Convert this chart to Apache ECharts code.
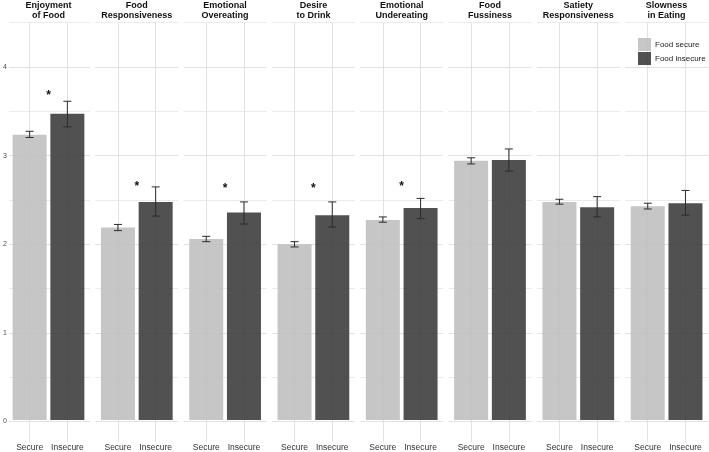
<!DOCTYPE html>
<html>
<head>
<meta charset="utf-8">
<script src="https://cdn.jsdelivr.net/npm/echarts@6/dist/echarts.min.js"></script>
<style>
  html, body { margin: 0; padding: 0; background: #fff; }
  #main { width: 709px; height: 452px; }
</style>
</head>
<body>
<div id="main"></div>
<script>
// facet names and groups
var panelNames = ['Enjoyment\nof Food', 'Food\nResponsiveness', 'Emotional\nOvereating', 'Desire\nto Drink',
                  'Emotional\nUndereating', 'Food\nFussiness', 'Satiety\nResponsiveness', 'Slowness\nin Eating'];
var groups = ['Secure', 'Insecure'];
var legendNames = ['Food secure', 'Food insecure'];

// means and error bar limits
var secureMean   = [3.23, 2.18, 2.05, 1.99, 2.265, 2.935, 2.47, 2.42];
var secureLow    = [3.20, 2.145, 2.02, 1.96, 2.24, 2.90, 2.445, 2.39];
var secureHigh   = [3.27, 2.215, 2.08, 2.02, 2.30, 2.97, 2.50, 2.455];
var insecureMean = [3.47, 2.47, 2.35, 2.32, 2.40, 2.945, 2.41, 2.455];
var insecureLow  = [3.32, 2.31, 2.22, 2.185, 2.28, 2.82, 2.30, 2.32];
var insecureHigh = [3.61, 2.64, 2.47, 2.47, 2.51, 3.07, 2.53, 2.60];
// significance stars (null = none)
var starY = [3.70, 2.67, 2.64, 2.64, 2.67, null, null, null];

// y axis
var yMin = 0, yMax = 4.5, yStep = 0.5;

var font = 'Liberation Sans, Arial, Helvetica, sans-serif';
var lightFill = 'rgba(190,190,190,0.88)';
var darkFill = 'rgba(62,62,62,0.9)';
var gridColor = '#e2e2e2';

var panelW = 83, panelStep = 88.3, panelLeft0 = 7;
var gridTop = 22.7, gridBottom = 30.6;

var grids = [], xAxes = [], yAxes = [], series = [], titles = [];

for (var i = 0; i < panelNames.length; i++) {
    var pl = panelLeft0 + i * panelStep;
    // background grid: horizontal grid lines over the full panel width
    grids.push({left: pl, width: panelW, top: gridTop, bottom: gridBottom});
    // foreground grid: bars (ggplot style 0.6 expansion on discrete axis)
    var fw = panelW / 2.2 * 2;
    grids.push({left: pl + panelW * 0.6 / 2.2 - fw / 4, width: fw, top: gridTop, bottom: gridBottom});

    var bg = i * 2, fg = i * 2 + 1;

    xAxes.push({
        gridIndex: bg, type: 'value', min: 0, max: 1, show: false
    });
    yAxes.push({
        gridIndex: bg, type: 'value', min: yMin, max: yMax, interval: yStep,
        axisLine: {show: false}, axisTick: {show: false},
        axisLabel: {
            show: i === 0, margin: 2, fontSize: 7, color: '#4d4d4d', fontFamily: font,
            formatter: function (v) { return v % 1 === 0 ? String(v) : ''; }
        },
        splitLine: {show: true, lineStyle: {color: [gridColor, '#ebebeb'], width: 1}}
    });

    xAxes.push({
        gridIndex: fg, type: 'category', data: groups, boundaryGap: true,
        axisLine: {show: false},
        axisTick: {show: true, interval: 0, alignWithLabel: true, length: 22, lineStyle: {color: gridColor}},
        axisLabel: {interval: 0, margin: 23, fontSize: 8.5, color: '#333', fontFamily: font},
        splitLine: {show: true, interval: 0, alignWithLabel: true, lineStyle: {color: gridColor}}
    });
    yAxes.push({
        gridIndex: fg, type: 'value', min: yMin, max: yMax, show: false, splitLine: {show: false}
    });

    series.push({
        name: legendNames[0], type: 'bar', xAxisIndex: fg, yAxisIndex: fg,
        barWidth: 34, barGap: '-100%',
        itemStyle: {color: lightFill},
        data: [secureMean[i], '-']
    });
    series.push({
        name: legendNames[1], type: 'bar', xAxisIndex: fg, yAxisIndex: fg,
        barWidth: 34, barGap: '-100%',
        itemStyle: {color: darkFill},
        data: ['-', insecureMean[i]]
    });

    // error bars
    series.push({
        type: 'custom', xAxisIndex: fg, yAxisIndex: fg, z: 5,
        encode: {x: 0, y: [1, 2]},
        data: [[0, secureLow[i], secureHigh[i]], [1, insecureLow[i], insecureHigh[i]]],
        renderItem: function (params, api) {
            var lo = api.coord([api.value(0), api.value(1)]);
            var hi = api.coord([api.value(0), api.value(2)]);
            var w = 4;
            var st = {stroke: '#2b2b2b', lineWidth: 1};
            return {type: 'group', children: [
                {type: 'line', shape: {x1: hi[0], y1: hi[1], x2: lo[0], y2: lo[1]}, style: st},
                {type: 'line', shape: {x1: hi[0] - w, y1: hi[1], x2: hi[0] + w, y2: hi[1]}, style: st},
                {type: 'line', shape: {x1: lo[0] - w, y1: lo[1], x2: lo[0] + w, y2: lo[1]}, style: st}
            ]};
        }
    });

    // star between the two bars
    series.push({
        type: 'custom', xAxisIndex: fg, yAxisIndex: fg, z: 6,
        encode: {x: 0, y: 1},
        data: starY[i] == null ? [] : [[0, starY[i]]],
        renderItem: function (params, api) {
            var a = api.coord([0, api.value(1)]);
            var b = api.coord([1, api.value(1)]);
            return {
                type: 'text', x: (a[0] + b[0]) / 2, y: a[1] + 2,
                style: {text: '*', fontSize: 12, fontWeight: 'bold', fill: '#111',
                        fontFamily: font, align: 'center', verticalAlign: 'middle'}
            };
        }
    });

    titles.push({
        text: panelNames[i], left: pl + panelW / 2, top: 1, textAlign: 'center', padding: 0,
        textStyle: {fontSize: 9, fontWeight: 'bold', color: '#111', lineHeight: 10, fontFamily: font}
    });
}

var myChart = echarts.init(document.getElementById('main'));
myChart.setOption({
    animation: false,
    title: titles,
    legend: {
        data: legendNames, orient: 'vertical', left: 638, top: 38, padding: 0,
        itemWidth: 13, itemHeight: 13, itemGap: 1, icon: 'rect',
        textStyle: {fontSize: 8, color: '#222', fontFamily: font, padding: [0, 0, 0, -1]}
    },
    grid: grids,
    xAxis: xAxes,
    yAxis: yAxes,
    series: series
});
</script>
</body>
</html>
